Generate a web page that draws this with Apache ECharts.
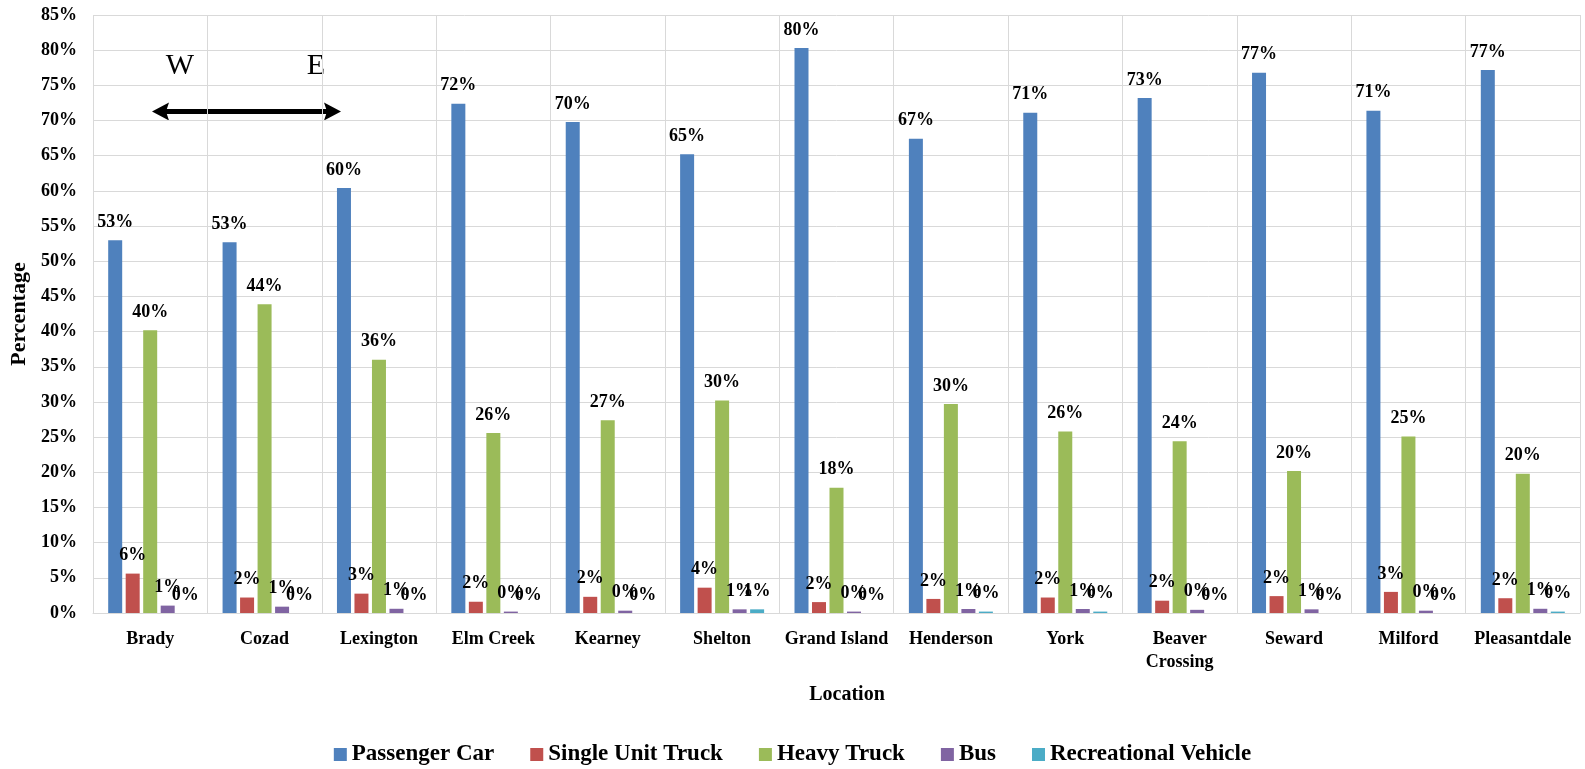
<!DOCTYPE html>
<html>
<head>
<meta charset="utf-8">
<title>Vehicle Class Share by Location</title>
<script src="https://cdn.jsdelivr.net/npm/echarts@6/dist/echarts.min.js"></script>
<style>
  html, body { margin: 0; padding: 0; background: #fff; }
  #chart { width: 1585px; height: 769px; }
</style>
</head>
<body>
<div id="chart"></div>
<script>
// Stations along the corridor, west to east
const locations = ['Brady', 'Cozad', 'Lexington', 'Elm Creek', 'Kearney', 'Shelton', 'Grand Island',
  'Henderson', 'York', 'Beaver\nCrossing', 'Seward', 'Milford', 'Pleasantdale'];

// Share of traffic (%) by vehicle class
const passengerCar     = [53.0, 52.7, 60.4, 72.4, 69.8, 65.2, 80.3, 67.4, 71.1, 73.2, 76.8, 71.4, 77.2];
const singleUnitTruck  = [5.6, 2.2, 2.75, 1.6, 2.3, 3.6, 1.55, 2.0, 2.2, 1.75, 2.4, 3.0, 2.1];
const heavyTruck       = [40.2, 43.9, 36.0, 25.6, 27.4, 30.2, 17.8, 29.7, 25.8, 24.4, 20.2, 25.1, 19.8];
const bus              = [1.05, 0.9, 0.6, 0.2, 0.33, 0.52, 0.2, 0.57, 0.57, 0.45, 0.52, 0.33, 0.6];
const recreational     = [0, 0, 0, 0, 0, 0.52, 0, 0.2, 0.2, 0, 0, 0, 0.2];

const seriesNames  = ['Passenger Car', 'Single Unit Truck', 'Heavy Truck', 'Bus', 'Recreational Vehicle'];
const seriesValues = [passengerCar, singleUnitTruck, heavyTruck, bus, recreational];
const colors       = ['#4F81BD', '#C0504D', '#9BBB59', '#8064A2', '#4BACC6'];

const yTicks = { min: 0, max: 85, interval: 5 };

const FONT = "'Liberation Serif', 'Times New Roman', serif";
const gridColor = '#d9d9d9';

const chart = echarts.init(document.getElementById('chart'));

chart.setOption({
  animation: false,
  color: colors,
  textStyle: { fontFamily: FONT },
  grid: { left: 93, right: 5, top: 15, bottom: 156, containLabel: false, outerBoundsMode: 'none' },
  legend: {
    data: seriesNames,
    top: 738,
    left: 'center',
    icon: 'rect',
    itemWidth: 13,
    itemHeight: 13,
    itemGap: 36,
    textStyle: { fontFamily: FONT, fontWeight: 'bold', fontSize: 23, color: '#000' }
  },
  xAxis: {
    type: 'category',
    data: locations,
    boundaryGap: true,
    axisTick: { show: false },
    axisLine: { show: true, lineStyle: { color: gridColor, width: 1 } },
    splitLine: { show: true, lineStyle: { color: gridColor, width: 1 } },
    axisLabel: {
      interval: 0,
      margin: 15,
      fontFamily: FONT,
      fontWeight: 'bold',
      fontSize: 18,
      lineHeight: 23,
      color: '#000'
    }
  },
  yAxis: {
    type: 'value',
    min: yTicks.min,
    max: yTicks.max,
    interval: yTicks.interval,
    name: 'Percentage',
    nameLocation: 'middle',
    nameGap: 59,
    nameTextStyle: { fontFamily: FONT, fontWeight: 'bold', fontSize: 22, color: '#000' },
    axisLine: { show: false },
    axisTick: { show: false },
    splitLine: { show: true, lineStyle: { color: gridColor, width: 1 } },
    axisLabel: {
      margin: 16,
      formatter: '{value}%',
      fontFamily: FONT,
      fontWeight: 'bold',
      fontSize: 18,
      color: '#000'
    }
  },
  series: seriesNames.map((name, i) => ({
    name: name,
    type: 'bar',
    data: seriesValues[i],
    barWidth: 14,
    barGap: '25%',
    itemStyle: { color: colors[i] },
    label: {
      show: true,
      position: 'top',
      distance: 9,
      formatter: p => Math.round(p.value) + '%',
      fontFamily: FONT,
      fontWeight: 'bold',
      fontSize: 18,
      color: '#000'
    }
  })),
  graphic: [
    // axis title for the categories
    {
      type: 'text',
      x: 847,
      y: 695,
      style: {
        text: 'Location', fontFamily: FONT, fontWeight: 'bold', fontSize: 20, fill: '#000',
        align: 'center', verticalAlign: 'middle'
      }
    },
    // travel direction annotation
    {
      type: 'text',
      x: 180, y: 66,
      style: { text: 'W', fontFamily: FONT, fontSize: 30, fill: '#000', align: 'center', verticalAlign: 'middle' }
    },
    {
      type: 'text',
      x: 316, y: 66,
      style: { text: 'E', fontFamily: FONT, fontSize: 30, fill: '#000', align: 'center', verticalAlign: 'middle' }
    },
    {
      type: 'line',
      shape: { x1: 165, y1: 111.5, x2: 328, y2: 111.5 },
      style: { stroke: '#000', lineWidth: 5 }
    },
    {
      type: 'polygon',
      shape: { points: [[152, 111.5], [169, 102.5], [166, 111.5], [169, 120.5]] },
      style: { fill: '#000' }
    },
    {
      type: 'polygon',
      shape: { points: [[341, 111.5], [324, 102.5], [327, 111.5], [324, 120.5]] },
      style: { fill: '#000' }
    }
  ]
});
</script>
</body>
</html>
